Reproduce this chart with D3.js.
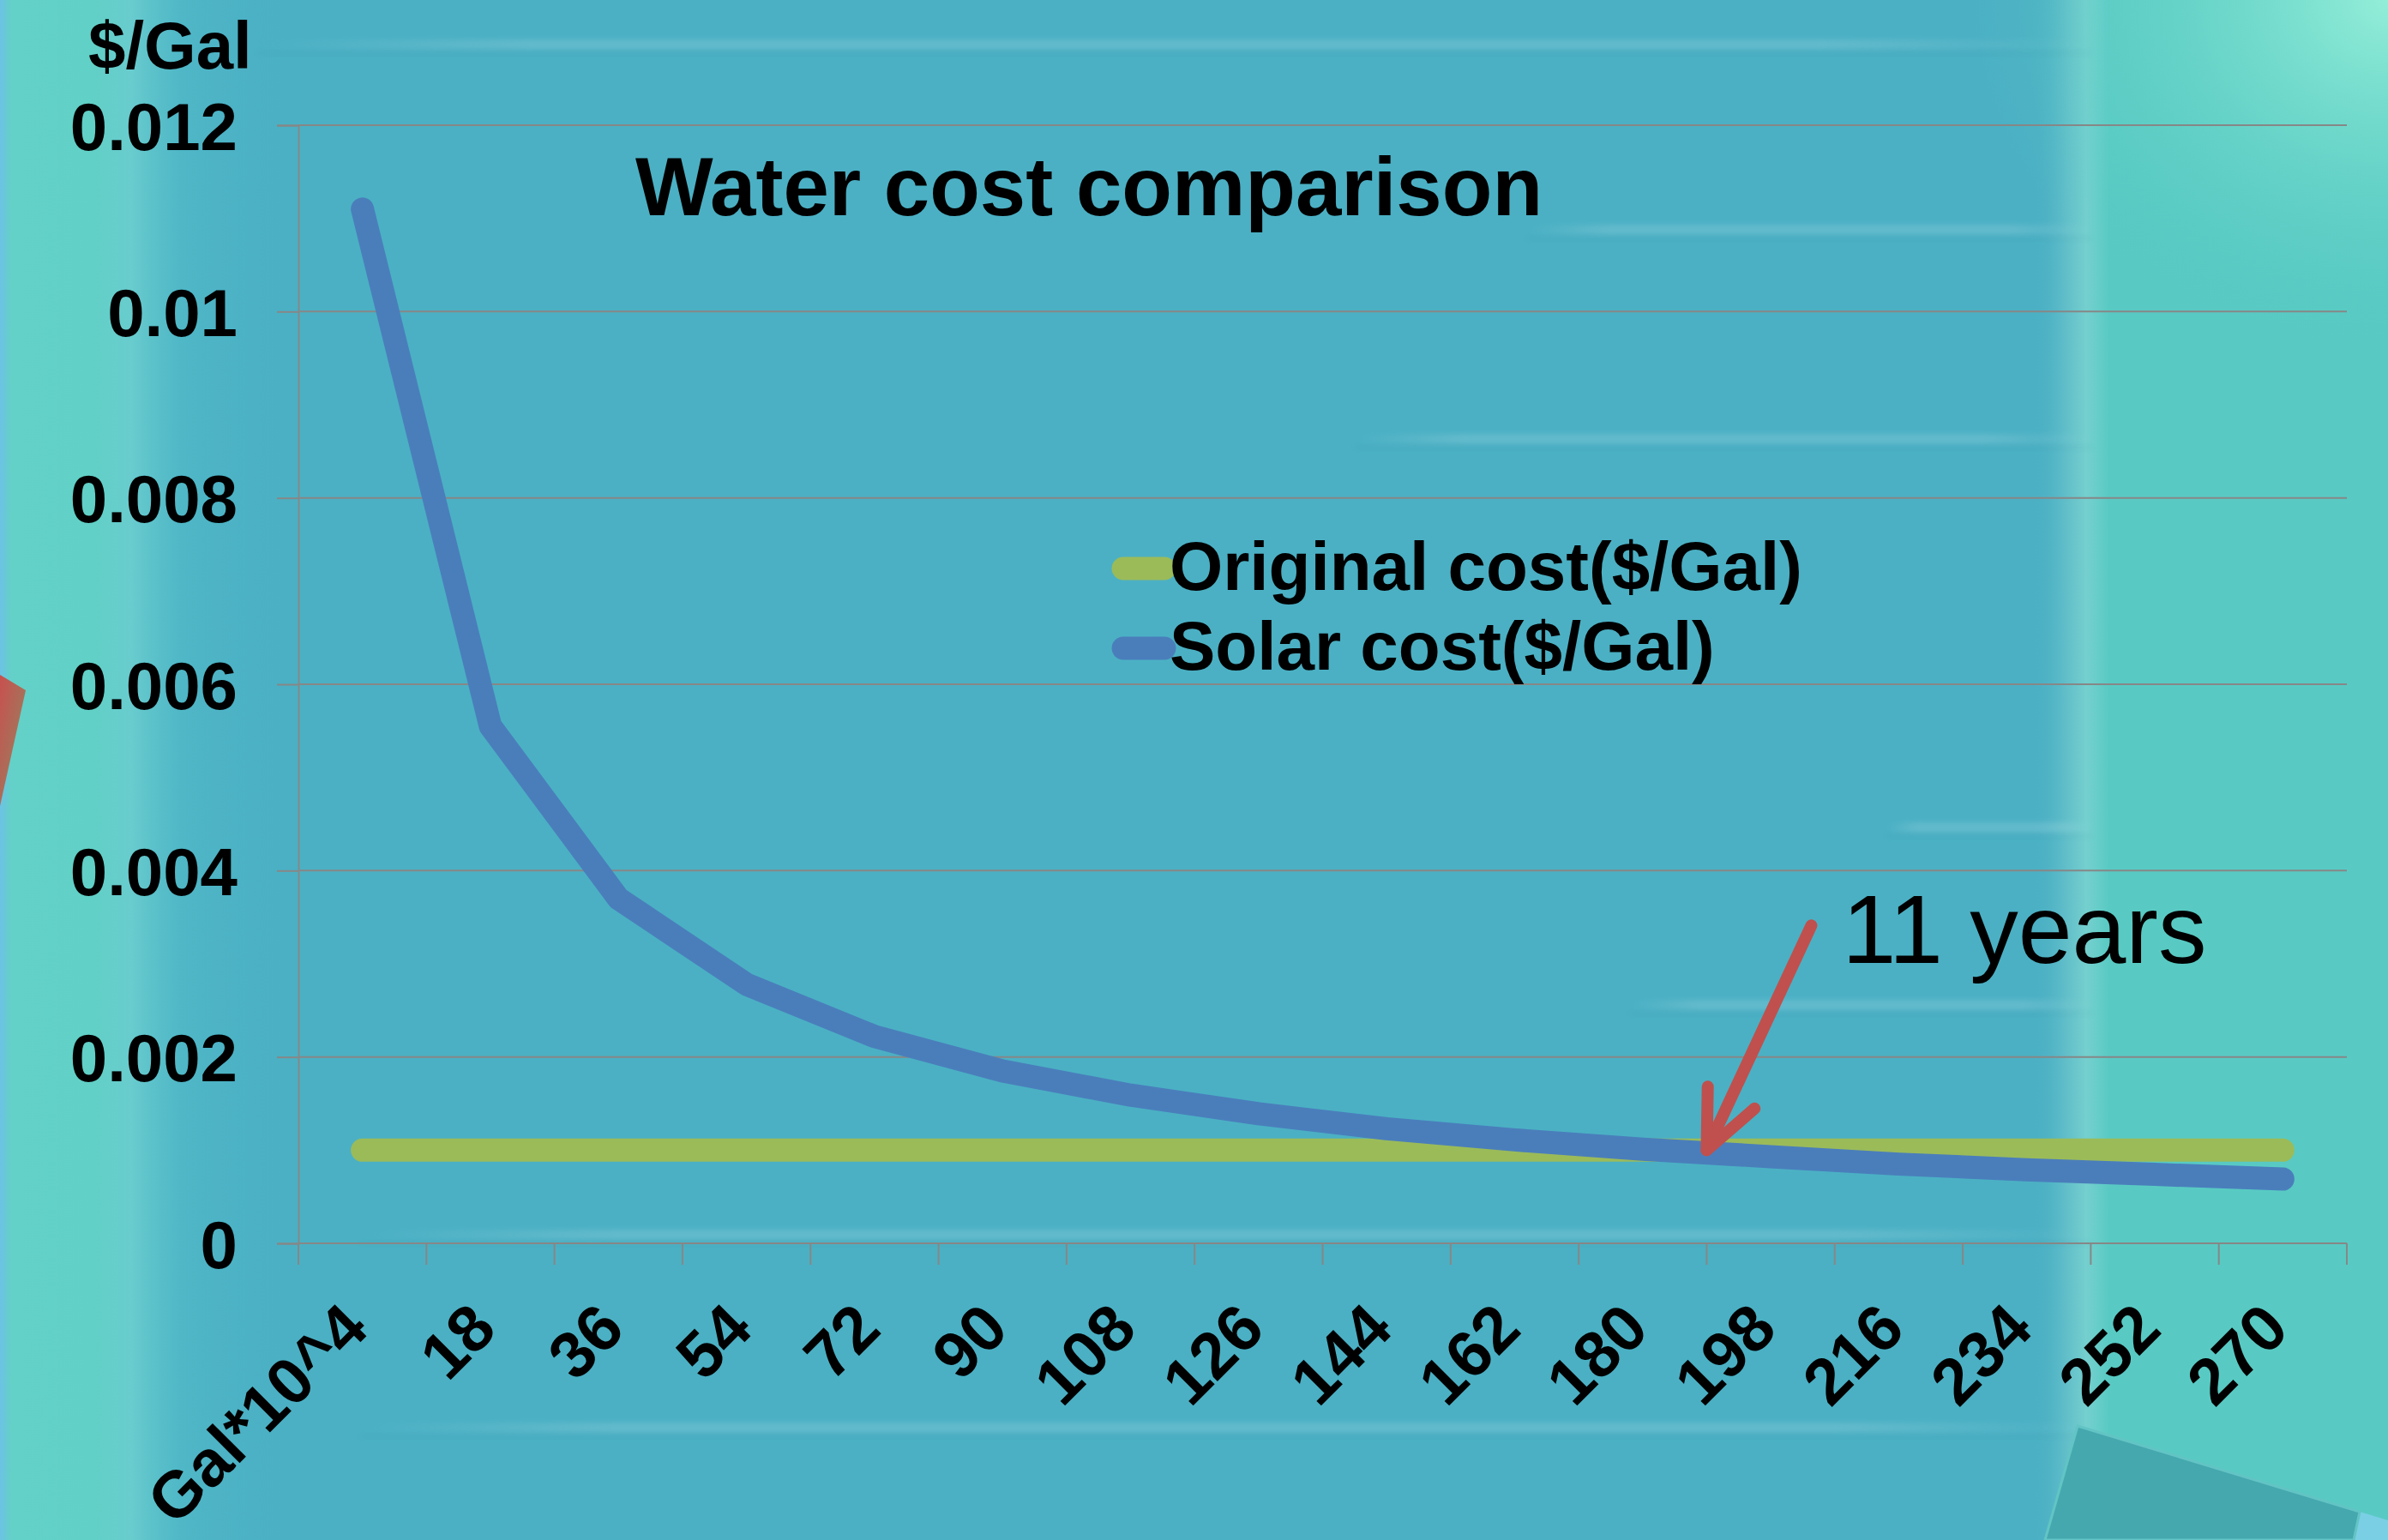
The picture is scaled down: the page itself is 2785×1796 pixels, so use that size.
<!DOCTYPE html>
<html>
<head>
<meta charset="utf-8">
<script src="https://cdn.jsdelivr.net/npm/d3@7"></script>
<style>
  html, body { margin: 0; padding: 0; background: #4bb0c4; }
  svg { display: block; }
  text { font-family: "Liberation Sans", Arial, Helvetica, sans-serif; fill: #000; }
</style>
</head>
<body>
<svg id="chart" width="2785" height="1796"></svg>
<script>
// ---- data -------------------------------------------------------------
const categories = ["Gal*10^4", "18", "36", "54", "72", "90", "108", "126",
                    "144", "162", "180", "198", "216", "234", "252", "270"];
const originalCost = [0.001, 0.001, 0.001, 0.001, 0.001, 0.001, 0.001, 0.001,
                      0.001, 0.001, 0.001, 0.001, 0.001, 0.001, 0.001, 0.001];
const solarCost = [0.0111, 0.00555, 0.0037, 0.00278, 0.00222, 0.00185, 0.00159, 0.00139,
                   0.00123, 0.00111, 0.00101, 0.00093, 0.00085, 0.00079, 0.00074, 0.00069];
const yTicks = [0, 0.002, 0.004, 0.006, 0.008, 0.01, 0.012];
const seriesNames = ["Original cost($/Gal)", "Solar cost($/Gal)"];
const breakEvenLabel = "11 years";
const breakEvenCategory = "198";   // arrow points at the start of this category, at the original cost

// ---- layout -----------------------------------------------------------
const W = 2785, H = 1796;
const plot = { left: 348, right: 2737, top: 146, bottom: 1450 };
const colors = { original: "#9bbb59", solar: "#4a7ebb", arrow: "#c0504d", grid: "#878787" };
const lineWidth = 27;

const svg = d3.select("#chart");
const defs = svg.append("defs");

// ---- backdrop -----------------------------------------------------------
const bg = svg.append("g").attr("class", "backdrop");
bg.append("rect").attr("width", W).attr("height", H).attr("fill", "#4bb0c4");

function hGrad(id, stops) {
  const g = defs.append("linearGradient").attr("id", id)
    .attr("x1", 0).attr("x2", 1).attr("y1", 0).attr("y2", 0);
  stops.forEach(s => g.append("stop").attr("offset", s[0])
    .attr("stop-color", s[1]).attr("stop-opacity", s[2]));
}
hGrad("leftStrip", [[0, "#6cc2e4", 1], [0.04, "#63d1c7", 1], [0.32, "#61d0c6", 1],
                    [0.45, "#6ccfcf", 0.9], [0.62, "#52bcc8", 0.6], [1, "#4bb0c4", 0]]);
hGrad("rightEdge", [[0, "#4bb0c4", 0], [0.45, "#6cc6cc", 0.7], [0.7, "#79d3cf", 0.9], [1, "#58cac3", 1]]);
hGrad("streak", [[0, "#ffffff", 0], [0.15, "#ffffff", 1], [0.85, "#ffffff", 1], [1, "#ffffff", 0]]);

const rg = defs.append("radialGradient").attr("id", "cornerGlow")
  .attr("cx", 1).attr("cy", 0).attr("r", 1);
rg.append("stop").attr("offset", 0).attr("stop-color", "#93eed8").attr("stop-opacity", 1);
rg.append("stop").attr("offset", 1).attr("stop-color", "#57cac3").attr("stop-opacity", 0);

defs.append("filter").attr("id", "soft").attr("x", "-5%").attr("y", "-200%")
  .attr("width", "110%").attr("height", "500%")
  .append("feGaussianBlur").attr("stdDeviation", 3);

bg.append("rect").attr("x", 0).attr("y", 0).attr("width", 340).attr("height", H)
  .attr("fill", "url(#leftStrip)");
bg.append("rect").attr("x", 2370).attr("y", 0).attr("width", 90).attr("height", H)
  .attr("fill", "url(#rightEdge)");
bg.append("rect").attr("x", 2459).attr("y", 0).attr("width", W - 2459).attr("height", H)
  .attr("fill", "#58cac3");
bg.append("rect").attr("x", 2300).attr("y", 0).attr("width", 485).attr("height", 420)
  .attr("fill", "url(#cornerGlow)");

// faint horizontal ridges of the tank
const ridges = [[52, 300, 2440], [268, 1780, 2440], [512, 1580, 2440], [965, 2200, 2440],
                [1172, 1900, 2440], [1440, 420, 2440], [1665, 420, 2440]];
ridges.forEach(([y, x0, x1]) => {
  bg.append("rect").attr("x", x0).attr("y", y - 6).attr("width", x1 - x0).attr("height", 12)
    .attr("fill", "url(#streak)").attr("opacity", 0.13).attr("filter", "url(#soft)");
  bg.append("rect").attr("x", x0).attr("y", y + 8).attr("width", x1 - x0).attr("height", 4)
    .attr("fill", "#2a7f92").attr("opacity", 0.08).attr("filter", "url(#soft)");
});

// red sliver at the left edge
const redGrad = defs.append("linearGradient").attr("id", "redSliver")
  .attr("x1", 0).attr("y1", 0).attr("x2", 1).attr("y2", 1);
redGrad.append("stop").attr("offset", 0).attr("stop-color", "#c8504e");
redGrad.append("stop").attr("offset", 1).attr("stop-color", "#8f8a62");
bg.append("path").attr("d", "M0,787 L30,805 L0,940 Z").attr("fill", "url(#redSliver)");

// translucent panel at the bottom right
bg.append("path").attr("d", "M2752,1763 L2785,1773 L2785,1796 L2745,1796 Z").attr("fill", "#7bcfe4");
bg.append("path").attr("d", "M2423,1663 L2752,1763 L2745,1796 L2385,1796 Z")
  .attr("fill", "#45a8ae").attr("stroke", "#62c4c4").attr("stroke-width", 3);

// ---- scales -------------------------------------------------------------
const x = d3.scaleBand().domain(categories).range([plot.left, plot.right]).padding(0);
const cx = c => x(c) + x.bandwidth() / 2;
const y = d3.scaleLinear().domain([0, 0.012]).range([plot.bottom, plot.top]);

// ---- grid -----------------------------------------------------------------
svg.append("g").selectAll("line").data(yTicks.filter(v => v > 0)).join("line")
  .attr("x1", plot.left).attr("x2", plot.right)
  .attr("y1", d => y(d)).attr("y2", d => y(d))
  .attr("stroke", colors.grid).attr("stroke-width", 2);

// ---- y axis ---------------------------------------------------------------
const fmt = d => d === 0 ? "0" : d3.format(".3~f")(d);
const yAxis = svg.append("g").attr("transform", `translate(${plot.left},0)`)
  .call(d3.axisLeft(y).tickValues(yTicks).tickSize(25).tickPadding(46).tickFormat(fmt));
yAxis.select(".domain").attr("stroke", colors.grid).attr("stroke-width", 2);
yAxis.selectAll(".tick line").attr("stroke", colors.grid).attr("stroke-width", 2);
yAxis.selectAll(".tick text")
  .attr("font-family", "'Liberation Sans', Arial, sans-serif")
  .attr("font-size", 78).attr("font-weight", "bold").attr("fill", "#000")
  .attr("dy", "0.36em");

// ---- x axis (ticks on category boundaries) ---------------------------------
const xAxis = svg.append("g");
xAxis.append("line")
  .attr("x1", plot.left).attr("x2", plot.right)
  .attr("y1", plot.bottom).attr("y2", plot.bottom)
  .attr("stroke", colors.grid).attr("stroke-width", 2);
const bounds = categories.map(c => x(c)).concat([x.range()[1]]);
xAxis.selectAll("line.tick").data(bounds).join("line").attr("class", "tick")
  .attr("x1", d => d).attr("x2", d => d)
  .attr("y1", plot.bottom).attr("y2", plot.bottom + 25)
  .attr("stroke", colors.grid).attr("stroke-width", 2);
xAxis.selectAll("text").data(categories).join("text")
  .attr("transform", d => `translate(${cx(d) + 10},${plot.bottom + 103}) rotate(-45)`)
  .attr("text-anchor", "end")
  .attr("font-size", 76).attr("font-weight", "bold")
  .text(d => d);

// ---- series -----------------------------------------------------------------
const line = d3.line().x((d, i) => cx(categories[i])).y(d => y(d));
svg.append("path").datum(originalCost).attr("d", line)
  .attr("fill", "none").attr("stroke", colors.original).attr("stroke-width", lineWidth)
  .attr("stroke-linecap", "round").attr("stroke-linejoin", "round");
svg.append("path").datum(solarCost).attr("d", line)
  .attr("fill", "none").attr("stroke", colors.solar).attr("stroke-width", lineWidth)
  .attr("stroke-linecap", "round").attr("stroke-linejoin", "round");

// ---- titles -----------------------------------------------------------------
svg.append("text").attr("x", 741).attr("y", 251)
  .attr("font-size", 96).attr("font-weight", "bold").text("Water cost comparison");
svg.append("text").attr("x", 103).attr("y", 80)
  .attr("font-size", 78).attr("font-weight", "bold").text("$/Gal");

// ---- legend -----------------------------------------------------------------
const legend = svg.append("g").attr("transform", "translate(1310,663)");
const legendItems = [
  { name: seriesNames[0], color: colors.original },
  { name: seriesNames[1], color: colors.solar }
];
legendItems.forEach((it, i) => {
  const g = legend.append("g").attr("transform", `translate(0,${i * 93})`);
  g.append("line").attr("x1", 0).attr("x2", 48).attr("y1", 0).attr("y2", 0)
    .attr("stroke", it.color).attr("stroke-width", lineWidth).attr("stroke-linecap", "round");
  g.append("text").attr("x", 54).attr("y", 25)
    .attr("font-size", 80).attr("font-weight", "bold").text(it.name);
});

// ---- break-even annotation -----------------------------------------------------
const tip = [x(breakEvenCategory), y(originalCost[categories.indexOf(breakEvenCategory)])];
const tail = [tip[0] + 122, tip[1] - 262];
const ang = Math.atan2(tail[1] - tip[1], tail[0] - tip[0]);
const headLen = 74, spread = 24 * Math.PI / 180;
const arm = a => [tip[0] + headLen * Math.cos(a), tip[1] + headLen * Math.sin(a)];
const a1 = arm(ang - spread), a2 = arm(ang + spread);
const ann = svg.append("g").attr("fill", "none").attr("stroke", colors.arrow)
  .attr("stroke-width", 14).attr("stroke-linecap", "round").attr("stroke-linejoin", "round");
ann.append("path").attr("d", `M${tail[0]},${tail[1]} L${tip[0]},${tip[1]}`);
ann.append("path").attr("d", `M${a1[0]},${a1[1]} L${tip[0]},${tip[1]} L${a2[0]},${a2[1]}`);
svg.append("text").attr("x", tail[0] + 36).attr("y", tail[1] + 44)
  .attr("font-size", 113).text(breakEvenLabel);
</script>
</body>
</html>
